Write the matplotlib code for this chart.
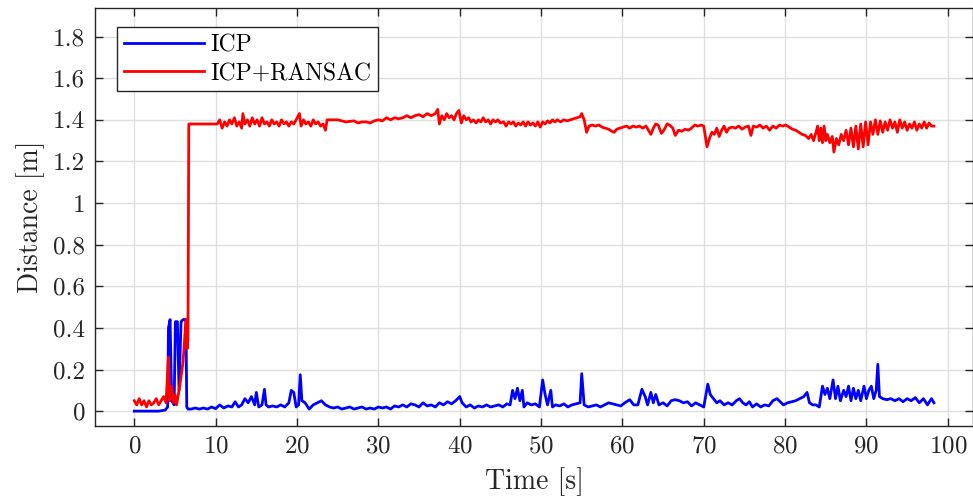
import numpy as np
import matplotlib
matplotlib.use("Agg")
import matplotlib.pyplot as plt

plt.rcParams['font.family'] = 'serif'
plt.rcParams['font.serif'] = ['cmr10', 'DejaVu Serif']
plt.rcParams['axes.formatter.use_mathtext'] = True
plt.rcParams['mathtext.fontset'] = 'cm'

# ICP distance [m] over time [s]
icp_t = [0.0, 1.0, 2.0, 3.0, 3.8, 4.1, 4.2, 4.4, 4.6, 4.9, 5.05, 5.3, 5.5, 5.75, 6.0, 6.35, 6.45, 6.6,
         7.0, 7.5, 8.0, 8.5, 9.0, 9.5, 10.0, 10.5, 11.0, 11.5, 12.0, 12.4, 12.8, 13.2, 13.6, 14.0, 14.4,
         14.8, 15.0, 15.3, 15.7, 16.0, 16.2, 16.5, 17.0, 17.5, 18.0, 18.5, 19.0, 19.3, 19.6, 19.9, 20.2,
         20.4, 20.6, 21.0, 21.5, 22.0, 22.5, 23.0, 23.5, 24.0, 24.5, 25.0, 25.5, 26.0, 26.5, 27.0, 27.5,
         28.0, 28.5, 29.0, 29.5, 30.0, 30.5, 31.0, 31.5, 32.0, 32.5, 33.0, 33.5, 34.0, 34.5, 35.0, 35.5,
         36.0, 36.5, 37.0, 37.5, 38.0, 38.5, 39.0, 39.5, 40.0, 40.3, 40.8, 41.3, 41.8, 42.3, 42.8, 43.3,
         43.8, 44.3, 44.8, 45.3, 45.8, 46.2, 46.5, 46.8, 47.1, 47.4, 47.7, 47.9, 48.3, 48.8, 49.3, 49.8,
         50.2, 50.5, 50.8, 51.2, 51.4, 51.8, 52.3, 52.8, 53.3, 53.8, 54.3, 54.8, 55.0, 55.3, 55.8, 56.3,
         56.8, 57.3, 57.8, 58.3, 58.8, 59.3, 59.8, 60.3, 60.9, 61.4, 61.9, 62.4, 62.8, 63.1, 63.5, 63.8,
         64.1, 64.5, 65.0, 65.5, 66.0, 66.5, 67.0, 67.5, 68.0, 68.5, 69.0, 69.5, 70.0, 70.5, 70.8, 71.2,
         71.6, 72.0, 72.5, 73.0, 73.5, 74.0, 74.4, 74.8, 75.2, 75.6, 76.0, 76.5, 77.0, 77.5, 78.0, 78.5,
         79.0, 79.4, 79.8, 80.3, 80.8, 81.3, 81.8, 82.3, 82.7, 83.0, 83.4, 83.8, 84.2, 84.6, 84.9, 85.2,
         85.5, 85.9, 86.2, 86.5, 86.8, 87.2, 87.5, 87.8, 88.1, 88.4, 88.7, 89.0, 89.3, 89.7, 90.0, 90.3,
         90.6, 90.9, 91.2, 91.4, 91.6, 92.0, 92.5, 93.0, 93.5, 94.0, 94.5, 95.0, 95.5, 96.0, 96.5, 97.0,
         97.5, 98.0, 98.3]
icp_d = [0.0, 0.0, 0.0, 0.0, 0.005, 0.02, 0.40, 0.44, 0.05, 0.03, 0.43, 0.43, 0.10, 0.43, 0.44, 0.44, 0.02, 0.01,
         0.01, 0.015, 0.01, 0.015, 0.01, 0.02, 0.012, 0.03, 0.015, 0.025, 0.02, 0.045, 0.02, 0.03, 0.06, 0.04, 0.07,
         0.03, 0.09, 0.02, 0.03, 0.105, 0.03, 0.02, 0.025, 0.02, 0.03, 0.02, 0.04, 0.10, 0.09, 0.02, 0.03,
         0.175, 0.05, 0.04, 0.01, 0.03, 0.04, 0.05, 0.03, 0.02, 0.015, 0.02, 0.01, 0.015, 0.02, 0.01, 0.015,
         0.02, 0.01, 0.015, 0.01, 0.02, 0.015, 0.02, 0.01, 0.025, 0.02, 0.03, 0.02, 0.035, 0.03, 0.02, 0.04,
         0.025, 0.03, 0.02, 0.04, 0.03, 0.045, 0.035, 0.05, 0.07, 0.04, 0.02, 0.03, 0.015, 0.025, 0.02, 0.03,
         0.02, 0.025, 0.03, 0.02, 0.035, 0.03, 0.10, 0.06, 0.11, 0.05, 0.10, 0.02, 0.04, 0.03, 0.035, 0.02,
         0.15, 0.08, 0.03, 0.10, 0.02, 0.03, 0.025, 0.035, 0.02, 0.03, 0.035, 0.04, 0.18, 0.03, 0.02, 0.025,
         0.03, 0.02, 0.03, 0.04, 0.035, 0.03, 0.025, 0.04, 0.055, 0.03, 0.03, 0.105, 0.07, 0.03, 0.09, 0.04,
         0.08, 0.03, 0.04, 0.025, 0.05, 0.055, 0.05, 0.04, 0.045, 0.025, 0.04, 0.03, 0.02, 0.13, 0.08, 0.06,
         0.04, 0.05, 0.03, 0.04, 0.03, 0.05, 0.06, 0.04, 0.03, 0.045, 0.02, 0.035, 0.02, 0.03, 0.025, 0.05,
         0.06, 0.045, 0.03, 0.04, 0.045, 0.05, 0.06, 0.07, 0.09, 0.04, 0.03, 0.03, 0.02, 0.12, 0.08, 0.11,
         0.06, 0.15, 0.06, 0.12, 0.05, 0.10, 0.07, 0.12, 0.05, 0.11, 0.06, 0.10, 0.05, 0.12, 0.06, 0.10,
         0.12, 0.06, 0.10, 0.225, 0.07, 0.06, 0.055, 0.06, 0.05, 0.06, 0.045, 0.06, 0.05, 0.065, 0.04, 0.06,
         0.03, 0.06, 0.04]

# ICP+RANSAC distance [m] over time [s]
ransac_t = [0.0, 0.3, 0.6, 0.9, 1.2, 1.5, 1.8, 2.1, 2.4, 2.7, 3.0, 3.3, 3.6, 3.9, 4.2, 4.35, 4.6, 4.8, 5.0,
            5.2, 5.5, 5.8, 6.0, 6.2, 6.35, 6.5, 6.6, 6.7, 7.5, 8.5, 9.5, 10.2, 10.5, 10.8, 11.1, 11.4, 11.7,
            12.0, 12.3, 12.6, 12.9, 13.2, 13.35, 13.6, 13.9, 14.2, 14.5, 14.8, 15.1, 15.4, 15.7, 16.0, 16.3,
            16.6, 16.9, 17.2, 17.5, 17.8, 18.1, 18.4, 18.7, 19.0, 19.3, 19.6, 19.9, 20.3, 20.5, 20.8, 21.1,
            21.4, 21.7, 22.0, 22.3, 22.6, 22.9, 23.2, 23.5, 23.7, 25.0, 26.0, 27.0, 27.5, 28.0, 28.5, 29.0,
            29.5, 30.0, 30.5, 31.0, 31.5, 32.0, 32.5, 33.0, 33.5, 34.0, 34.5, 35.0, 35.5, 36.0, 36.5, 37.0,
            37.3, 37.5, 37.8, 38.1, 38.4, 38.7, 39.0, 39.3, 39.6, 39.9, 40.2, 40.5, 40.8, 41.1, 41.4, 41.7,
            42.0, 42.3, 42.6, 42.9, 43.2, 43.5, 43.8, 44.1, 44.4, 44.7, 45.0, 45.4, 45.7, 46.0, 46.3, 46.6,
            46.9, 47.2, 47.5, 47.8, 48.1, 48.4, 48.7, 49.0, 49.3, 49.6, 49.9, 50.2, 50.5, 50.8, 51.1, 51.4,
            51.7, 52.0, 52.4, 52.8, 53.2, 53.6, 54.0, 54.4, 54.8, 55.0, 55.3, 55.6, 55.9, 56.3, 56.7, 57.1,
            57.5, 57.9, 58.3, 58.7, 59.0, 59.3, 59.7, 60.1, 60.5, 60.9, 61.3, 61.7, 62.1, 62.5, 62.9, 63.2,
            63.5, 63.8, 64.1, 64.4, 64.8, 65.1, 65.5, 65.8, 66.2, 66.5, 66.9, 67.3, 67.7, 68.1, 68.5, 68.9,
            69.3, 69.7, 70.0, 70.4, 70.7, 71.0, 71.3, 71.6, 71.9, 72.2, 72.5, 72.8, 73.1, 73.5, 73.9, 74.3,
            74.7, 75.1, 75.5, 75.8, 76.1, 76.5, 76.9, 77.3, 77.7, 78.1, 78.5, 78.9, 79.3, 79.7, 80.1, 80.5,
            80.9, 81.3, 81.7, 82.1, 82.5, 82.9, 83.2, 83.5, 83.8, 84.0, 84.2, 84.4, 84.6, 84.8, 85.0, 85.2,
            85.5, 85.8, 86.0, 86.3, 86.6, 86.9, 87.2, 87.5, 87.8, 88.1, 88.4, 88.7, 89.0, 89.3, 89.6, 89.9,
            90.2, 90.5, 90.8, 91.1, 91.4, 91.7, 92.0, 92.3, 92.6, 92.9, 93.2, 93.5, 93.8, 94.1, 94.4, 94.7,
            95.0, 95.3, 95.6, 95.9, 96.2, 96.5, 96.8, 97.1, 97.4, 97.7, 98.0, 98.3]
ransac_d = [0.05, 0.03, 0.06, 0.03, 0.05, 0.02, 0.05, 0.03, 0.04, 0.06, 0.03, 0.05, 0.07, 0.04, 0.26, 0.05, 0.12, 0.04, 0.08,
            0.03, 0.10, 0.18, 0.24, 0.35, 0.44, 0.30, 0.35, 1.38, 1.38, 1.38, 1.38, 1.38, 1.40, 1.36, 1.39, 1.37, 1.40,
            1.38, 1.41, 1.37, 1.39, 1.36, 1.43, 1.38, 1.40, 1.37, 1.41, 1.38, 1.40, 1.37, 1.41, 1.38, 1.39,
            1.37, 1.40, 1.38, 1.39, 1.37, 1.40, 1.38, 1.39, 1.37, 1.39, 1.38, 1.40, 1.43, 1.37, 1.40, 1.38,
            1.39, 1.37, 1.40, 1.38, 1.39, 1.37, 1.38, 1.35, 1.40, 1.40, 1.39, 1.395, 1.385, 1.39, 1.39, 1.385,
            1.395, 1.40, 1.395, 1.41, 1.40, 1.41, 1.405, 1.41, 1.42, 1.41, 1.42, 1.425, 1.415, 1.43, 1.42, 1.43,
            1.45, 1.38, 1.42, 1.40, 1.43, 1.41, 1.42, 1.40, 1.43, 1.445, 1.385, 1.42, 1.40, 1.41, 1.39, 1.40,
            1.385, 1.40, 1.39, 1.41, 1.39, 1.40, 1.38, 1.40, 1.39, 1.40, 1.385, 1.39, 1.37, 1.39, 1.38, 1.39,
            1.37, 1.385, 1.375, 1.39, 1.37, 1.39, 1.375, 1.385, 1.37, 1.39, 1.365, 1.39, 1.38, 1.395, 1.385, 1.40,
            1.39, 1.40, 1.39, 1.40, 1.395, 1.40, 1.405, 1.41, 1.415, 1.43, 1.40, 1.34, 1.37, 1.375, 1.37, 1.375,
            1.365, 1.36, 1.355, 1.345, 1.34, 1.355, 1.36, 1.365, 1.37, 1.36, 1.37, 1.365, 1.37, 1.36, 1.37, 1.35,
            1.33, 1.36, 1.38, 1.375, 1.335, 1.35, 1.38, 1.375, 1.36, 1.325, 1.35, 1.345, 1.355, 1.35, 1.36, 1.375,
            1.37, 1.375, 1.37, 1.27, 1.31, 1.34, 1.33, 1.36, 1.32, 1.35, 1.37, 1.34, 1.36, 1.365, 1.36, 1.37,
            1.355, 1.365, 1.37, 1.325, 1.37, 1.365, 1.375, 1.36, 1.37, 1.35, 1.37, 1.36, 1.375, 1.37, 1.375, 1.365,
            1.355, 1.35, 1.34, 1.33, 1.325, 1.31, 1.33, 1.30, 1.34, 1.37, 1.30, 1.36, 1.29, 1.37, 1.30, 1.33,
            1.29, 1.32, 1.245, 1.31, 1.28, 1.33, 1.30, 1.35, 1.28, 1.36, 1.27, 1.37, 1.26, 1.38, 1.27, 1.39,
            1.28, 1.39, 1.33, 1.40, 1.33, 1.395, 1.34, 1.39, 1.35, 1.40, 1.36, 1.39, 1.34, 1.40, 1.36, 1.39,
            1.35, 1.38, 1.36, 1.39, 1.35, 1.38, 1.36, 1.39, 1.36, 1.385, 1.37, 1.37]

x_ticks = np.arange(0, 101, 10)
y_ticks = [0, 0.2, 0.4, 0.6, 0.8, 1, 1.2, 1.4, 1.6, 1.8]
y_tick_labels = ['0', '0.2', '0.4', '0.6', '0.8', '1', '1.2', '1.4', '1.6', '1.8']

fig = plt.figure(figsize=(9.73, 4.99), dpi=100)
ax = fig.add_axes([95 / 973, 73.3 / 499, 878 / 973, 417.4 / 499])

ax.plot(icp_t, icp_d, color=(0, 0, 1), lw=2, label='ICP')
ax.plot(ransac_t, ransac_d, color=(1, 0, 0), lw=2, label='ICP+RANSAC')

ax.set_xlim(-4.83, 103.1)
ax.set_ylim(-0.07, 1.936)
ax.set_xticks(x_ticks)
ax.set_yticks(y_ticks)
ax.set_yticklabels(y_tick_labels)

ax.grid(True, color='#dfdfdf', lw=1)
ax.set_axisbelow(True)
ax.tick_params(direction='in', length=6, width=1, top=True, right=True,
               labelsize=18, colors='#262626', pad=7)
for s in ax.spines.values():
    s.set_color('#262626')
    s.set_linewidth(1)

ax.set_xlabel('Time [s]', fontsize=20, color='#262626', labelpad=7)
ax.set_ylabel('Distance [m]', fontsize=20, color='#262626', labelpad=6)

leg = ax.legend(loc='upper left', bbox_to_anchor=(0.025, 0.955), borderaxespad=0, fontsize=17,
                handlelength=3.4, handletextpad=0.25, borderpad=0.3, labelspacing=0.25,
                fancybox=False, framealpha=1, edgecolor='#262626')
leg.get_frame().set_linewidth(1)

fig.savefig('out.png', dpi=100)
